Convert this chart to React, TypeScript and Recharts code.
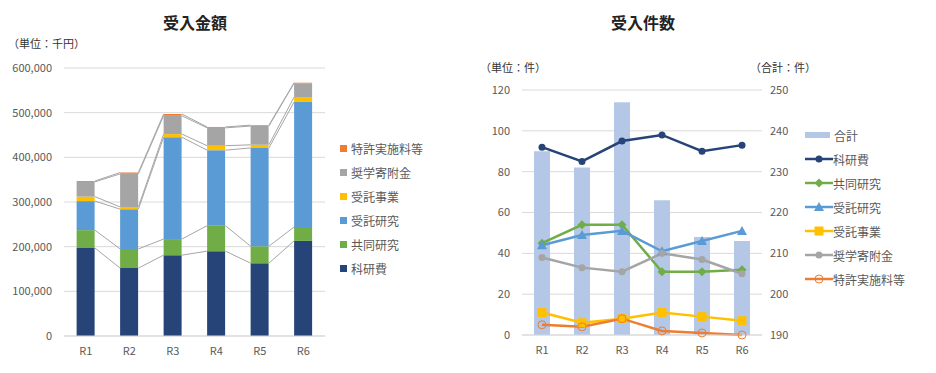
import React from 'react';
import { ComposedChart, Bar, Line, XAxis, YAxis, CartesianGrid } from 'recharts';

const YEARS = ['R1', 'R2', 'R3', 'R4', 'R5', 'R6'];

// 受入金額 (千円)
const AMT_KAKEN = [197000, 152000, 181000, 190000, 163000, 213000];
const AMT_KYODO = [40000, 43000, 36000, 57000, 38000, 31000];
const AMT_JUTAKU = [65000, 89000, 228000, 169000, 220000, 280000];
const AMT_JIGYO = [10000, 5000, 7000, 10000, 7000, 11000];
const AMT_SHOGAKU = [33000, 74000, 41000, 40000, 42000, 31000];
const AMT_TOKKYO = [2000, 3000, 4000, 2000, 2000, 1000];
const AMT_TICKS = [0, 100000, 200000, 300000, 400000, 500000, 600000];

// 受入件数 (件)
const CNT_KAKEN = [92, 85, 95, 98, 90, 93];
const CNT_KYODO = [45, 54, 54, 31, 31, 32];
const CNT_JUTAKU = [44, 49, 51, 41, 46, 51];
const CNT_JIGYO = [11, 6, 8, 11, 9, 7];
const CNT_SHOGAKU = [38, 33, 31, 40, 37, 30];
const CNT_TOKKYO = [5, 4, 8, 2, 1, 0];
const CNT_TOTAL = [235, 231, 247, 223, 214, 213];
const CNT_TICKS = [0, 20, 40, 60, 80, 100, 120];
const TOTAL_TICKS = [190, 200, 210, 220, 230, 240, 250];

const SERIES = [
  { key: 'kaken', name: '科研費', color: '#264478', marker: 'circle' },
  { key: 'kyodo', name: '共同研究', color: '#70AD47', marker: 'diamond' },
  { key: 'jutaku', name: '受託研究', color: '#5B9BD5', marker: 'triangle' },
  { key: 'jigyo', name: '受託事業', color: '#FFC000', marker: 'square' },
  { key: 'shogaku', name: '奨学寄附金', color: '#A5A5A5', marker: 'circle' },
  { key: 'tokkyo', name: '特許実施料等', color: '#ED7D31', marker: 'open' },
];

const AMT = [AMT_KAKEN, AMT_KYODO, AMT_JUTAKU, AMT_JIGYO, AMT_SHOGAKU, AMT_TOKKYO];
const CNT = [CNT_KAKEN, CNT_KYODO, CNT_JUTAKU, CNT_JIGYO, CNT_SHOGAKU, CNT_TOKKYO];

const amountData = YEARS.map((year, i) => {
  const row: any = { year };
  SERIES.forEach((s, k) => (row[s.key] = AMT[k][i]));
  return row;
});

const countData = YEARS.map((year, i) => {
  const row: any = { year, total: CNT_TOTAL[i] };
  SERIES.forEach((s, k) => (row[s.key] = CNT[k][i]));
  return row;
});

// series lines between the stacked bars (Excel style)
const GAP = 0.29;
const HW = (1 - 2 * GAP) / 2;
const seriesLines = SERIES.map((_, k) => {
  const cum = YEARS.map((_, i) => AMT.slice(0, k + 1).reduce((a, arr) => a + arr[i], 0));
  const pts: any[] = [];
  for (let i = 0; i < YEARS.length - 1; i++) {
    pts.push({ sx: i + HW, v: cum[i] });
    pts.push({ sx: i + 1 - HW, v: cum[i + 1] });
    pts.push({ sx: i + 1, v: null });
  }
  return pts;
});

const FONT = '"Noto Sans CJK JP", "Noto Sans", sans-serif';
const TXT = '#595959';
const tick = { fill: TXT, fontSize: 11, fontFamily: FONT };

const makeDot = (marker: string, color: string) => (p: any) => {
  const { cx, cy, index } = p;
  const key = `${marker}-${color}-${index}`;
  if (cx == null || cy == null) return <g key={key} />;
  if (marker === 'diamond')
    return <path key={key} d={`M${cx},${cy - 4.5}L${cx + 4.5},${cy}L${cx},${cy + 4.5}L${cx - 4.5},${cy}Z`} fill={color} />;
  if (marker === 'triangle')
    return <path key={key} d={`M${cx},${cy - 5}L${cx + 5},${cy + 4}L${cx - 5},${cy + 4}Z`} fill={color} />;
  if (marker === 'square')
    return <rect key={key} x={cx - 4.5} y={cy - 4.5} width={9} height={9} fill={color} />;
  if (marker === 'open')
    return <circle key={key} cx={cx} cy={cy} r={4} fill="none" stroke={color} strokeWidth={1} />;
  return <circle key={key} cx={cx} cy={cy} r={3.5} fill={color} />;
};

const row = { display: 'flex', alignItems: 'center', height: 24 } as const;

const AmountLegend = () => (
  <div style={{ position: 'absolute', left: 340, top: 136, fontSize: 12, color: TXT }}>
    {[...SERIES].reverse().map((s) => (
      <div key={s.key} style={row}>
        <span style={{ width: 7, height: 7, background: s.color, marginRight: 4 }} />
        {s.name}
      </div>
    ))}
  </div>
);

const CountLegend = () => (
  <div style={{ position: 'absolute', left: 805, top: 123, fontSize: 12, color: TXT }}>
    <div style={row}>
      <span style={{ width: 25, height: 6, background: '#B4C7E7', marginRight: 4 }} />
      合計
    </div>
    {SERIES.map((s) => (
      <div key={s.key} style={row}>
        <svg width={28} height={12}>
          <line x1={0} y1={6} x2={28} y2={6} stroke={s.color} strokeWidth={2.5} />
          {makeDot(s.marker, s.color)({ cx: 14, cy: 6, index: 0 })}
        </svg>
        {s.name}
      </div>
    ))}
  </div>
);

const App = () => {
  return (
    <div style={{ position: 'relative', width: 936, height: 373, background: '#fff', fontFamily: FONT }}>
      <style>{`body{margin:0}`}</style>
      <div style={{ position: 'absolute', left: 0, width: 390, top: 10, textAlign: 'center', fontSize: 16, fontWeight: 'bold', color: '#222' }}>
        受入金額
      </div>
      <div style={{ position: 'absolute', left: 8, top: 35, fontSize: 11, color: '#333' }}>（単位：千円）</div>
      <div style={{ position: 'absolute', left: 470, width: 346, top: 10, textAlign: 'center', fontSize: 16, fontWeight: 'bold', color: '#222' }}>
        受入件数
      </div>
      <div style={{ position: 'absolute', left: 480, top: 59, fontSize: 11, color: '#333' }}>（単位：件）</div>
      <div style={{ position: 'absolute', left: 750, top: 59, fontSize: 11, color: '#333' }}>（合計：件）</div>

      <div style={{ position: 'absolute', left: 0, top: 0 }}>
        <ComposedChart width={470} height={373} data={amountData} barCategoryGap={`${GAP * 100}%`}
          margin={{ top: 68, right: 145, bottom: 0, left: 0 }}>
          <CartesianGrid vertical={false} stroke="#D9D9D9" />
          <XAxis dataKey="year" height={37} tickLine={false} axisLine={{ stroke: '#D9D9D9' }} tick={tick} dy={3} />
          <XAxis xAxisId="s" type="number" dataKey="sx" domain={[-0.5, 5.5]} allowDataOverflow hide />
          <YAxis width={64} domain={[0, 600000]} ticks={AMT_TICKS} tickLine={false} axisLine={false} tick={tick} dx={-4}
            tickFormatter={(v: number) => v.toLocaleString('en-US')} />
          {SERIES.map((s) => (
            <Bar key={s.key} dataKey={s.key} name={s.name} stackId="a" fill={s.color} isAnimationActive={false} />
          ))}
          {seriesLines.map((pts, k) => (
            <Line key={`sl${k}`} xAxisId="s" data={pts} dataKey="v" stroke="#A6A6A6" strokeWidth={1} dot={false}
              activeDot={false} legendType="none" isAnimationActive={false} />
          ))}
        </ComposedChart>
      </div>
      <AmountLegend />

      <div style={{ position: 'absolute', left: 470, top: 0 }}>
        <ComposedChart width={466} height={373} data={countData} margin={{ top: 90, right: 134, bottom: 0, left: 0 }}>
          <CartesianGrid vertical={false} stroke="#D9D9D9" yAxisId="l" />
          <XAxis dataKey="year" height={38} tickLine={false} axisLine={{ stroke: '#D9D9D9' }} tick={tick} dy={3} />
          <YAxis yAxisId="l" width={52} domain={[0, 120]} ticks={CNT_TICKS} tickLine={false} axisLine={false} tick={tick} dx={-4} />
          <YAxis yAxisId="r" orientation="right" width={40} domain={[190, 250]} ticks={TOTAL_TICKS} tickLine={false}
            axisLine={false} tick={tick} />
          <Bar yAxisId="r" dataKey="total" name="合計" fill="#B4C7E7" barSize={16} isAnimationActive={false} />
          {SERIES.map((s) => (
            <Line key={s.key} yAxisId="l" dataKey={s.key} name={s.name} stroke={s.color} strokeWidth={2.5}
              dot={makeDot(s.marker, s.color)} activeDot={false} isAnimationActive={false} />
          ))}
        </ComposedChart>
      </div>
      <CountLegend />
    </div>
  );
};

export default App;
